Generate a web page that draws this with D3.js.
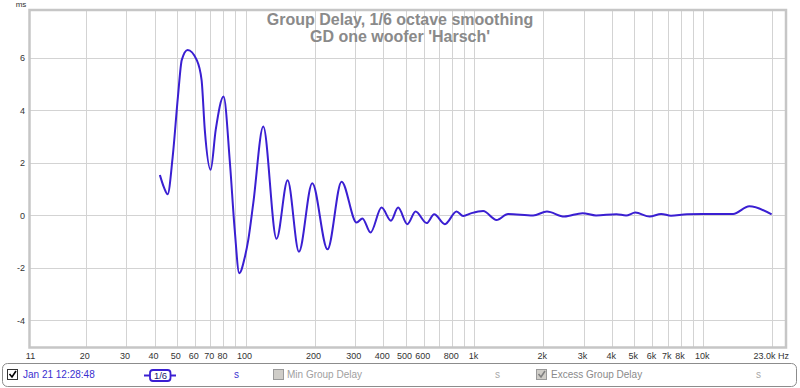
<!DOCTYPE html>
<html><head><meta charset="utf-8">
<script src="https://cdn.jsdelivr.net/npm/d3@7"></script>
<style>
html,body{margin:0;padding:0;background:#fff;}
svg{display:block;font-family:"Liberation Sans",Arial,sans-serif;}
</style></head>
<body>
<svg id="chart" width="800" height="388"></svg>
<script>
// ---- data ----
const titleLines = ["Group Delay, 1/6 octave smoothing", "GD one woofer 'Harsch'"];
const freqHz = [42.2, 44.0, 45.6, 48.0, 50.6, 52.6, 55.8, 61.1, 64.2, 66.3, 70.3, 74.0, 80.1, 85.4, 89.6, 93.8, 99.3, 102.7, 108, 119.4,
  136.5, 152.6, 171, 195.5, 228, 262.6, 305.5, 324, 351.5, 392.7, 431.5, 464, 509, 553, 618, 667, 742.6, 835.5, 893, 971,
  1092, 1249, 1403, 1805, 2075, 2470, 2970, 3400, 4175, 4600, 5050, 5830, 6550, 7230, 8500, 13500, 15900, 19900];
const delayMs = [1.53, 1.05, 0.80, 2.23, 4.52, 5.92, 6.30, 5.92, 5.15, 3.25, 1.73, 3.25, 4.52, 1.98, -0.56, -2.21, -1.58, -0.94, 0.46, 3.38,
  -0.90, 1.33, -1.39, 1.22, -1.30, 1.28, -0.28, -0.12, -0.66, 0.29, -0.21, 0.29, -0.34, 0.14, -0.30, 0.04, -0.34, 0.14, -0.03, 0.08,
  0.16, -0.18, 0.05, -0.01, 0.14, -0.05, 0.08, -0.01, 0.04, -0.01, 0.10, -0.05, 0.05, -0.02, 0.04, 0.05, 0.34, 0.03];
const yTicks = [-4, -2, 0, 2, 4, 6];
const xGrid = [20,30,40,50,60,70,80,90,100,200,300,400,500,600,700,800,900,1000,2000,3000,4000,5000,6000,7000,8000,9000,10000,20000];
const xTickValues = [20,30,40,50,60,70,80,100,200,300,400,500,600,800,1000,2000,3000,4000,5000,6000,7000,8000,10000];
const xTickLabels = ["20","30","40","50","60","70","80","100","200","300","400","500","600","800","1k","2k","3k","4k","5k","6k","7k","8k","10k"];
const xMinLabel = "11", xMaxLabel = "23.0k Hz", yUnit = "ms";
const legendItems = ["Jan 21 12:28:48", "Min Group Delay", "Excess Group Delay"];

// ---- layout ----
const svg = d3.select("#chart");
const L = 29.5, R = 786, T = 10, B = 347.5;
const x = d3.scaleLog().domain([11.36, 23000]).range([L, R]);
const y = d3.scaleLinear().domain([-5.04, 7.82]).range([B, T]);
const curveColor = "#3a1fd2";

// grid
const g = svg.append("g");
g.selectAll(".vg").data(xGrid).join("line")
  .attr("x1", d => Math.round(x(d)) + 0.5).attr("x2", d => Math.round(x(d)) + 0.5)
  .attr("y1", T).attr("y2", B).attr("stroke", "#d3d3d3").attr("stroke-width", 1);
g.selectAll(".hg").data(yTicks).join("line")
  .attr("y1", d => Math.round(y(d)) + 0.5).attr("y2", d => Math.round(y(d)) + 0.5)
  .attr("x1", L).attr("x2", R).attr("stroke", "#d3d3d3").attr("stroke-width", 1);

// frame
svg.append("rect").attr("x", L).attr("y", T).attr("width", R - L).attr("height", B - T)
  .attr("fill", "none").attr("stroke", "#c6c6c6").attr("stroke-width", 2.5);

// title
svg.selectAll(".title").data(titleLines).join("text")
  .attr("x", 400).attr("y", (d, i) => 25 + i * 17)
  .attr("text-anchor", "middle").attr("font-size", 16).attr("font-weight", "bold")
  .attr("fill", "#8a8a8a").text(d => d);

// y labels
svg.selectAll(".yl").data(yTicks).join("text")
  .attr("x", 25).attr("y", d => y(d) + 3.5).attr("text-anchor", "end")
  .attr("font-size", 9).attr("fill", "#333").text(d => d);
svg.append("text").attr("x", 21).attr("y", 7).attr("text-anchor", "middle")
  .attr("font-size", 8).attr("fill", "#333").text(yUnit);

// x labels
svg.selectAll(".xl").data(xTickValues).join("text")
  .attr("x", d => x(d) - 1).attr("y", 359).attr("text-anchor", "middle")
  .attr("font-size", 9).attr("fill", "#333").text((d, i) => xTickLabels[i]);
svg.append("text").attr("x", L + 1).attr("y", 359).attr("text-anchor", "middle")
  .attr("font-size", 9).attr("fill", "#333").text(xMinLabel);
svg.append("text").attr("x", 789).attr("y", 359).attr("text-anchor", "end")
  .attr("font-size", 9).attr("fill", "#333").text(xMaxLabel);

// curve
const pts = freqHz.map((f, i) => [f, delayMs[i]]);
const line = d3.line().x(d => x(d[0])).y(d => y(d[1])).curve(d3.curveMonotoneX);
svg.append("path").datum(pts).attr("d", line).attr("fill", "none")
  .attr("stroke", curveColor).attr("stroke-width", 2).attr("stroke-linejoin", "round");

// legend bar
const lg = svg.append("g");
lg.append("rect").attr("x", 2.5).attr("y", 363.5).attr("width", 794).attr("height", 23).attr("rx", 5)
  .attr("fill", "#fff").attr("stroke", "#8c8c8c").attr("stroke-width", 1);
// checkbox 1
lg.append("rect").attr("x", 7.5).attr("y", 369.5).attr("width", 10).attr("height", 10)
  .attr("fill", "#fff").attr("stroke", "#333").attr("stroke-width", 1);
lg.append("path").attr("d", "M9.5,374 L12,377 L16,371").attr("fill", "none").attr("stroke", "#000").attr("stroke-width", 1.6);
lg.append("text").attr("x", 23).attr("y", 378).attr("font-size", 10).attr("fill", "#3a2fd0").text(legendItems[0]);
// legend sample line with 1/6 box
lg.append("line").attr("x1", 144).attr("x2", 176).attr("y1", 375.5).attr("y2", 375.5)
  .attr("stroke", curveColor).attr("stroke-width", 2);
lg.append("rect").attr("x", 150).attr("y", 370).attr("width", 20.5).attr("height", 11).attr("rx", 3)
  .attr("fill", "#fff").attr("stroke", curveColor).attr("stroke-width", 1.8);
lg.append("text").attr("x", 160.5).attr("y", 379).attr("text-anchor", "middle").attr("font-size", 9.5)
  .attr("fill", "#1a1a6a").text("1/6");
lg.append("text").attr("x", 234).attr("y", 378).attr("font-size", 10).attr("fill", "#3a2fd0").text("s");
// checkbox 2 (disabled)
lg.append("rect").attr("x", 273.5).attr("y", 369.5).attr("width", 10).attr("height", 10)
  .attr("fill", "#cfcdc8").attr("stroke", "#9a9a9a").attr("stroke-width", 1);
lg.append("text").attr("x", 287).attr("y", 378).attr("font-size", 10).attr("fill", "#a0a0a0").text(legendItems[1]);
lg.append("text").attr("x", 495).attr("y", 378).attr("font-size", 10).attr("fill", "#a8a8a8").text("s");
// checkbox 3 (disabled, checked)
lg.append("rect").attr("x", 536.5).attr("y", 369.5).attr("width", 10).attr("height", 10)
  .attr("fill", "#cfcdc8").attr("stroke", "#9a9a9a").attr("stroke-width", 1);
lg.append("path").attr("d", "M538.5,374 L541,377 L545,371").attr("fill", "none").attr("stroke", "#808080").attr("stroke-width", 1.6);
lg.append("text").attr("x", 551).attr("y", 378).attr("font-size", 10).attr("fill", "#8a8a8a").text(legendItems[2]);
lg.append("text").attr("x", 756).attr("y", 378).attr("font-size", 10).attr("fill", "#a8a8a8").text("s");
</script>
</body></html>
